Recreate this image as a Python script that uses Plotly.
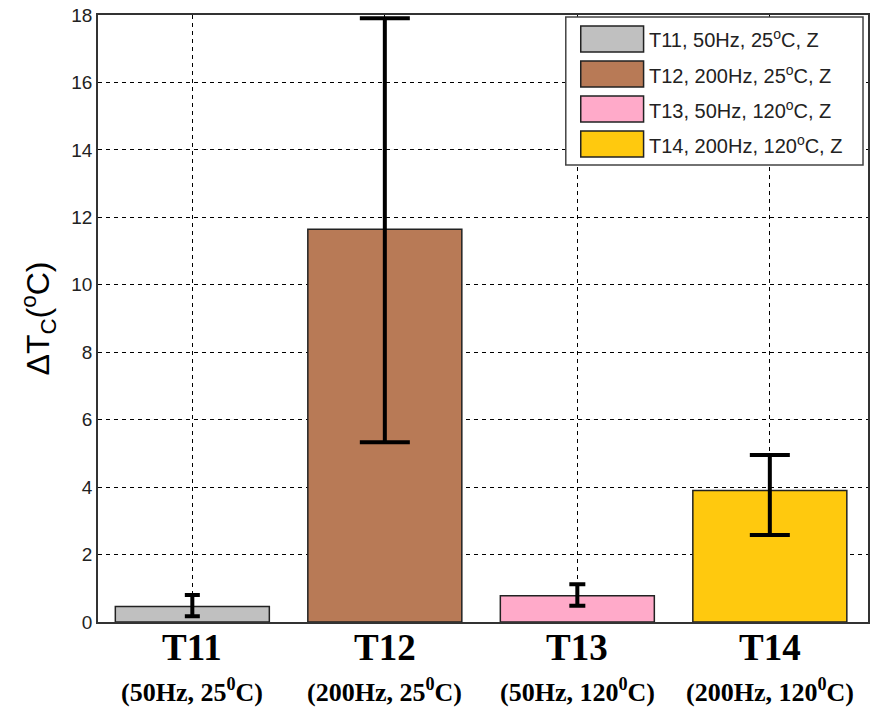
import plotly.graph_objects as go

# Temperature rise per test condition
categories = ["T11", "T12", "T13", "T14"]
conditions = ["(50Hz, 25<sup>0</sup>C)", "(200Hz, 25<sup>0</sup>C)",
              "(50Hz, 120<sup>0</sup>C)", "(200Hz, 120<sup>0</sup>C)"]
legend_labels = ["T11, 50Hz, 25<sup>o</sup>C, Z", "T12, 200Hz, 25<sup>o</sup>C, Z",
                 "T13, 50Hz, 120<sup>o</sup>C, Z", "T14, 200Hz, 120<sup>o</sup>C, Z"]
delta_tc = [0.46, 11.65, 0.78, 3.90]
err_plus = [0.34, 6.25, 0.34, 1.05]
err_minus = [0.29, 6.32, 0.30, 1.32]
colors = ["#c0c0c0", "#b87a56", "#ffaac9", "#ffc90e"]
cap_half_width = [7.5, 25, 8, 20]

fig = go.Figure()
for i, cat in enumerate(categories):
    fig.add_trace(go.Bar(
        x=[i], y=[delta_tc[i]], width=0.8,
        marker=dict(color=colors[i], line=dict(color="#222222", width=1.5)),
        error_y=dict(type="data", symmetric=False,
                     array=[err_plus[i]], arrayminus=[err_minus[i]],
                     color="black", thickness=4, width=cap_half_width[i]),
        showlegend=False, name=cat,
    ))

# Category labels below the axis
annotations = []
for i, cat in enumerate(categories):
    annotations.append(dict(x=i, y=-0.042, xref="x", yref="paper", text=f"<b>{cat}</b>",
                            showarrow=False, yanchor="middle",
                            font=dict(family="Liberation Serif", size=37, color="black")))
    annotations.append(dict(x=i, y=-0.113, xref="x", yref="paper", text=f"<b>{conditions[i]}</b>",
                            showarrow=False, yanchor="middle",
                            font=dict(family="Liberation Serif", size=26, color="black")))

# Legend box with wide colour swatches
shapes = []
plot_w, plot_h = 772.0, 607.0
def px_x(px):
    return (px - 98) / plot_w
def px_y(py):
    return (622 - py) / plot_h

shapes.append(dict(type="rect", xref="paper", yref="paper",
                   x0=px_x(567), x1=px_x(865), y0=px_y(165), y1=px_y(17),
                   line=dict(color="#444444", width=1.5), fillcolor="white", layer="above"))
for i, lab in enumerate(legend_labels):
    cy = 39 + 35 * i
    shapes.append(dict(type="rect", xref="paper", yref="paper",
                       x0=px_x(582), x1=px_x(645), y0=px_y(cy + 13), y1=px_y(cy - 13),
                       line=dict(color="#222222", width=1.5), fillcolor=colors[i], layer="above"))
    annotations.append(dict(x=px_x(648), y=px_y(cy), xref="paper", yref="paper", text=lab,
                            showarrow=False, xanchor="left", yanchor="middle",
                            font=dict(family="Liberation Sans", size=20, color="#222222")))

fig.update_layout(
    width=873, height=708,
    margin=dict(l=98, r=3, t=15, b=86),
    paper_bgcolor="white", plot_bgcolor="white",
    barmode="overlay",
    shapes=shapes, annotations=annotations,
    xaxis=dict(range=[-0.49, 3.51], tickvals=[0, 1, 2, 3], showticklabels=False,
               showgrid=True, gridcolor="black", gridwidth=1, griddash="4px,4px",
               showline=True, linecolor="#333333", linewidth=1.5, mirror=True,
               ticks="", zeroline=False),
    yaxis=dict(range=[0, 18], tickvals=list(range(0, 19, 2)),
               showgrid=True, gridcolor="black", gridwidth=1, griddash="4px,4px",
               showline=True, linecolor="#333333", linewidth=1.5, mirror=True,
               ticks="", zeroline=False,
               tickfont=dict(family="Liberation Sans", size=19, color="#222222"),
               title=dict(text="ΔT<sub>C</sub>(<sup>o</sup>C)", standoff=12,
                          font=dict(family="Liberation Sans", size=32, color="black"))),
)

fig.write_html("out.html")
